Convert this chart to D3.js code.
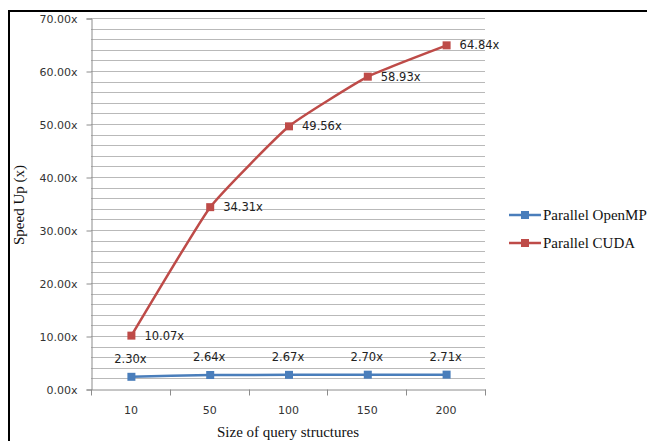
<!DOCTYPE html>
<html><head><meta charset="utf-8">
<script src="https://cdn.jsdelivr.net/npm/d3@7"></script>
<style>body{margin:0;background:#fff}svg{display:block}</style>
</head><body>
<script>
const categories = ["10", "50", "100", "150", "200"];
const openmp = [2.30, 2.64, 2.67, 2.70, 2.71];
const cuda = [10.07, 34.31, 49.56, 58.93, 64.84];
const yTicks = [0, 10, 20, 30, 40, 50, 60, 70];
const seriesNames = ["Parallel OpenMP", "Parallel CUDA"];
const colors = ["#4a7ebb", "#be4b48"];

const W = 647, H = 441;
const svg = d3.select("body").append("svg").attr("width", W).attr("height", H);

// frame
svg.append("path").attr("d", `M9,${H} L9,11 L${W},11`).attr("fill","none").attr("stroke","#000").attr("stroke-width",2);

const x = d3.scaleBand().domain(categories).range([91, 485]).padding(0);
const y = d3.scaleLinear().domain([0, 70]).range([389, 18]);

// gridlines every 2
const grid = d3.range(2, 71, 2);
svg.append("g").selectAll("line").data(grid).join("line")
  .attr("x1", 91).attr("x2", 485)
  .attr("y1", d => Math.round(y(d)) + 0.5).attr("y2", d => Math.round(y(d)) + 0.5)
  .attr("stroke", "#b9b9b9").attr("stroke-width", 1);

// y axis
const yAxis = svg.append("g").attr("transform", "translate(91.5,0.5)")
  .call(d3.axisLeft(y).tickValues(yTicks).tickSize(5).tickPadding(9).tickFormat(d => d3.format(".2f")(d) + "x"));
yAxis.select(".domain").attr("stroke", "#8c8c8c");
yAxis.selectAll(".tick line").attr("stroke", "#8c8c8c");
yAxis.selectAll("text").attr("font-family", "DejaVu Sans, Verdana, sans-serif").attr("font-size", 11).attr("fill", "#333");

// x axis
const xAxis = svg.append("g").attr("transform", `translate(0.5,${Math.round(y(0)) + 0.5})`)
  .call(d3.axisBottom(x).tickSize(0).tickPadding(17));
xAxis.select(".domain").attr("stroke", "#8c8c8c");
xAxis.selectAll("text").attr("font-family", "DejaVu Sans, Verdana, sans-serif").attr("font-size", 11).attr("fill", "#333");
const bounds = categories.map(c => x(c)).concat([x.range()[1]]);
xAxis.append("g").selectAll("line").data(bounds).join("line")
  .attr("x1", d => Math.round(d)).attr("x2", d => Math.round(d))
  .attr("y1", 0).attr("y2", 6).attr("stroke", "#8c8c8c");

const cx = c => x(c) + x.bandwidth() / 2 + 1;
const line = d3.line().x((d, i) => cx(categories[i])).y(d => y(d)).curve(d3.curveCardinal.tension(0.6));

[openmp, cuda].forEach((s, k) => {
  svg.append("path").datum(s).attr("d", line).attr("fill", "none")
    .attr("stroke", colors[k]).attr("stroke-width", 2.5);
  svg.append("g").selectAll("rect").data(s).join("rect")
    .attr("x", (d, i) => cx(categories[i]) - 4).attr("y", d => y(d) - 4)
    .attr("width", 8).attr("height", 8).attr("fill", colors[k]);
});

// labels
svg.append("g").selectAll("text").data(cuda).join("text")
  .attr("x", (d, i) => cx(categories[i]) + 13).attr("y", d => y(d)).attr("dy", "0.35em")
  .attr("font-family", "DejaVu Sans, Verdana, sans-serif").attr("font-size", 11.5).attr("fill", "#222")
  .text(d => d3.format(".2f")(d) + "x");
svg.append("g").selectAll("text").data(openmp).join("text")
  .attr("x", (d, i) => cx(categories[i]) - 1).attr("y", d => y(d) - 18).attr("dy", "0.35em")
  .attr("text-anchor", "middle")
  .attr("font-family", "DejaVu Sans, Verdana, sans-serif").attr("font-size", 11.5).attr("fill", "#222")
  .text(d => d3.format(".2f")(d) + "x");

// axis titles
svg.append("text").attr("x", 288).attr("y", 437).attr("text-anchor", "middle")
  .attr("font-family", "Liberation Serif, Times New Roman, serif").attr("font-size", 15).attr("fill", "#111")
  .text("Size of query structures");
svg.append("text").attr("transform", "translate(24,205) rotate(-90)").attr("text-anchor", "middle")
  .attr("font-family", "Liberation Serif, Times New Roman, serif").attr("font-size", 15).attr("fill", "#111")
  .text("Speed Up (x)");

// legend
const leg = svg.append("g");
seriesNames.forEach((n, k) => {
  const ly = 215 + k * 28;
  leg.append("line").attr("x1", 509).attr("x2", 541).attr("y1", ly).attr("y2", ly)
    .attr("stroke", colors[k]).attr("stroke-width", 2.5);
  leg.append("rect").attr("x", 521).attr("y", ly - 4).attr("width", 8).attr("height", 8).attr("fill", colors[k]);
  leg.append("text").attr("x", 543).attr("y", ly).attr("dy", "0.35em")
    .attr("font-family", "Liberation Serif, Times New Roman, serif").attr("font-size", 15).attr("fill", "#111")
    .text(n);
});
</script>
</body></html>
